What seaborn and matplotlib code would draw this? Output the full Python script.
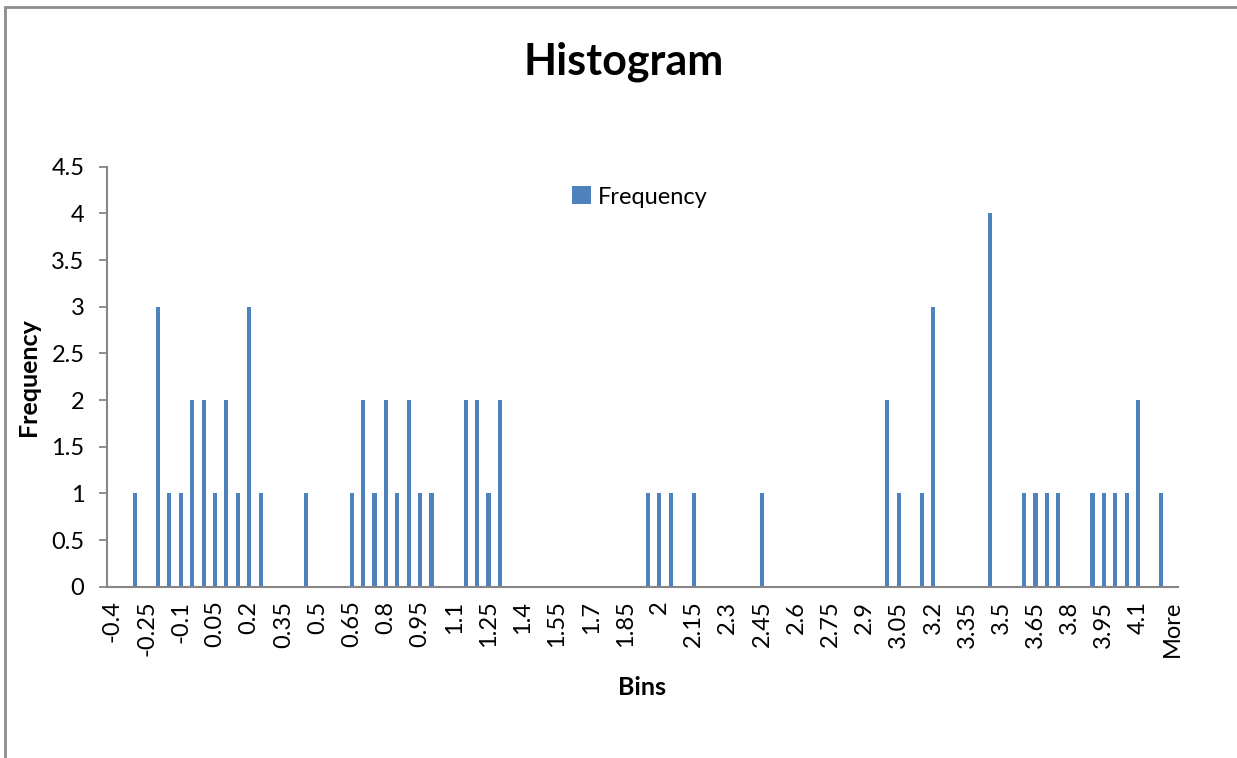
import matplotlib
matplotlib.use("Agg")
import matplotlib.pyplot as plt
import seaborn as sns
import pandas as pd
import numpy as np
from matplotlib.patches import Rectangle

bins = ["-0.4", "-0.35", "-0.3", "-0.25", "-0.2", "-0.15", "-0.1", "-0.05", "0", "0.05",
        "0.1", "0.15", "0.2", "0.25", "0.3", "0.35", "0.4", "0.45", "0.5", "0.55",
        "0.6", "0.65", "0.7", "0.75", "0.8", "0.85", "0.9", "0.95", "1", "1.05",
        "1.1", "1.15", "1.2", "1.25", "1.3", "1.35", "1.4", "1.45", "1.5", "1.55",
        "1.6", "1.65", "1.7", "1.75", "1.8", "1.85", "1.9", "1.95", "2", "2.05",
        "2.1", "2.15", "2.2", "2.25", "2.3", "2.35", "2.4", "2.45", "2.5", "2.55",
        "2.6", "2.65", "2.7", "2.75", "2.8", "2.85", "2.9", "2.95", "3", "3.05",
        "3.1", "3.15", "3.2", "3.25", "3.3", "3.35", "3.4", "3.45", "3.5", "3.55",
        "3.6", "3.65", "3.7", "3.75", "3.8", "3.85", "3.9", "3.95", "4", "4.05",
        "4.1", "4.15", "4.2", "More"]

frequency = [0, 0, 1, 0, 3, 1, 1, 2, 2, 1,
             2, 1, 3, 1, 0, 0, 0, 1, 0, 0,
             0, 1, 2, 1, 2, 1, 2, 1, 1, 0,
             0, 2, 2, 1, 2, 0, 0, 0, 0, 0,
             0, 0, 0, 0, 0, 0, 0, 1, 1, 1,
             0, 1, 0, 0, 0, 0, 0, 1, 0, 0,
             0, 0, 0, 0, 0, 0, 0, 0, 2, 1,
             0, 1, 3, 0, 0, 0, 0, 4, 0, 0,
             1, 1, 1, 1, 0, 0, 1, 1, 1, 1,
             2, 0, 1, 0]

yticks = [0, 0.5, 1, 1.5, 2, 2.5, 3, 3.5, 4, 4.5]
ytick_labels = ["0", "0.5", "1", "1.5", "2", "2.5", "3", "3.5", "4", "4.5"]

sns.set_style("white")
plt.rcParams['font.family'] = ['Lato', 'DejaVu Sans']
plt.rcParams['text.color'] = 'black'
plt.rcParams['xtick.color'] = 'black'
plt.rcParams['ytick.color'] = 'black'
plt.rcParams['axes.labelcolor'] = 'black'

BLUE = "#4F81BD"
GRAY = "#868686"

df = pd.DataFrame({"Bins": bins, "Frequency": frequency})

fig = plt.figure(figsize=(12.37, 7.58), dpi=100)
ax = fig.add_axes([106.7 / 1237, 1 - 586.7 / 758, (1178 - 106.7) / 1237, (586.7 - 166.7) / 758])

sns.barplot(data=df, x="Bins", y="Frequency", order=bins, color=BLUE,
            width=0.36, saturation=1, ax=ax, label="Frequency",
            linewidth=0, edgecolor=BLUE)

ax.set_xlim(-0.5, len(bins) - 0.5)
ax.set_ylim(0, 4.5)

# x ticks: marks between categories, labels every 3rd category
ax.set_xticks(np.arange(0, len(bins), 3))
ax.set_xticklabels([bins[i] for i in range(0, len(bins), 3)], rotation=90, fontsize=17)
ax.set_xticks(np.arange(-0.5, len(bins), 1), minor=True)
ax.tick_params(axis="x", which="major", length=0, pad=10)
ax.tick_params(axis="x", which="minor", length=6, width=1.3, color=GRAY, direction="out")

ax.set_yticks(yticks)
ax.set_yticklabels(ytick_labels, fontsize=17)
ax.tick_params(axis="y", which="major", length=6, width=1.3, color=GRAY, direction="out", pad=10, left=True)

for s in ["top", "right"]:
    ax.spines[s].set_visible(False)
for s in ["left", "bottom"]:
    ax.spines[s].set_color(GRAY)
    ax.spines[s].set_linewidth(1.5)

ax.set_xlabel("Bins", fontsize=18, fontweight="bold", labelpad=14)
ax.set_ylabel("Frequency", fontsize=18, fontweight="bold", labelpad=8)

fig.text(624 / 1237, 1 - 62 / 758, "Histogram", ha="center", va="center",
         fontsize=31, fontweight="bold")

leg = ax.legend(loc="center", bbox_to_anchor=(640 / 1237, 1 - 197 / 758),
                bbox_transform=fig.transFigure, frameon=False, fontsize=17,
                handlelength=0.8, handleheight=0.8, handletextpad=0.3)

# chart border
fig.patches.append(Rectangle((5 / 1237, -0.05), 1.2, 1 - 7 / 758 + 0.05,
                             transform=fig.transFigure, fill=False,
                             edgecolor="#8C8C8C", linewidth=2, zorder=0))

fig.savefig("out.png", dpi=100)
